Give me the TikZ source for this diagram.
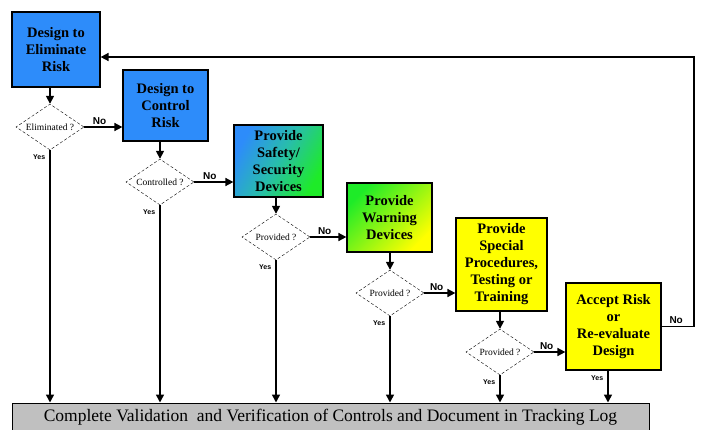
\documentclass[tikz,border=0pt]{standalone}
\usepackage{fontspec}
\setmainfont{Liberation Serif}
\setsansfont{Liberation Sans}
\usetikzlibrary{shapes.geometric,arrows.meta}
\definecolor{riskblue}{RGB}{45,140,250}
\definecolor{riskteal}{RGB}{40,190,170}
\definecolor{riskgreen}{RGB}{30,235,40}
\definecolor{riskyellow}{RGB}{255,255,0}
\definecolor{loggray}{RGB}{192,192,192}

\begin{document}
\begin{tikzpicture}[x=1pt,y=-1pt,>={Triangle[length=8pt,width=8pt]},
    stepbox/.style={draw,line width=1.2pt,align=center,inner sep=2pt,font=\rmfamily\bfseries\fontsize{14.5}{17}\selectfont},
    query/.style={diamond,draw,densely dashed,thin,aspect=1.5,inner sep=0pt,minimum width=68pt,minimum height=46pt,font=\rmfamily\fontsize{9.5}{10}\selectfont},
    flow/.style={->,line width=1.6pt},
    nolabel/.style={above,inner sep=2pt,font=\sffamily\bfseries\fontsize{10}{10}\selectfont},
    yeslabel/.style={below left,inner sep=4pt,font=\sffamily\bfseries\fontsize{7}{7}\selectfont}]

    \useasboundingbox (0,0) rectangle (702,429);

    \node[stepbox,fill=riskblue,minimum width=88pt,minimum height=75pt] (elim) at (56,49.5) {Design to\\Eliminate\\Risk};
    \node[stepbox,fill=riskblue,minimum width=85pt,minimum height=71pt] (control) at (165.5,105.5) {Design to\\Control\\Risk};
    \node[stepbox,left color=riskblue,right color=riskgreen,middle color=riskteal,shading angle=60,minimum width=89pt,minimum height=72pt] (safety) at (278.5,161) {Provide\\Safety/\\Security\\Devices};
    \node[stepbox,top color=riskgreen,bottom color=riskyellow,shading angle=45,minimum width=85pt,minimum height=69pt] (warning) at (389.5,217.5) {Provide\\Warning\\Devices};
    \node[stepbox,fill=riskyellow,minimum width=91pt,minimum height=93pt] (special) at (501.5,264.5) {Provide\\Special\\Procedures,\\Testing or\\Training};
    \node[stepbox,fill=riskyellow,minimum width=95pt,minimum height=87pt] (accept) at (613.5,326.5) {Accept Risk\\or\\Re-evaluate\\Design};

    \node[query] (elimq) at (50,127) {Eliminated ?};
    \node[query] (controlq) at (160,182) {Controlled ?};
    \node[query] (safetyq) at (276,237) {Provided ?};
    \node[query] (warningq) at (390,293) {Provided ?};
    \node[query] (specialq) at (500,352) {Provided ?};

    \node[draw,line width=1pt,fill=loggray,minimum width=637pt,minimum height=29pt,inner sep=0pt,font=\rmfamily\fontsize{17.5}{18}\selectfont] (log) at (330.5,417.5) {Complete Validation~~and Verification of Controls and Document in Tracking Log};

    \draw[flow] (elimq |- elim.south) -- (elimq.north);
    \draw[flow] (controlq |- control.south) -- (controlq.north);
    \draw[flow] (safetyq |- safety.south) -- (safetyq.north);
    \draw[flow] (warningq |- warning.south) -- (warningq.north);
    \draw[flow] (specialq |- special.south) -- (specialq.north);

    \draw[flow] (elimq.east) -- node[nolabel,pos=0.4]{No} (elimq.east -| control.west);
    \draw[flow] (controlq.east) -- node[nolabel,pos=0.4]{No} (controlq.east -| safety.west);
    \draw[flow] (safetyq.east) -- node[nolabel,pos=0.4]{No} (safetyq.east -| warning.west);
    \draw[flow] (warningq.east) -- node[nolabel,pos=0.4]{No} (warningq.east -| special.west);
    \draw[flow] (specialq.east) -- node[nolabel,pos=0.4]{No} (specialq.east -| accept.west);

    \draw[flow] (elimq.south) -- node[yeslabel,pos=0]{Yes} (elimq |- log.north);
    \draw[flow] (controlq.south) -- node[yeslabel,pos=0]{Yes} (controlq |- log.north);
    \draw[flow] (safetyq.south) -- node[yeslabel,pos=0]{Yes} (safetyq |- log.north);
    \draw[flow] (warningq.south) -- node[yeslabel,pos=0]{Yes} (warningq |- log.north);
    \draw[flow] (specialq.south) -- node[yeslabel,pos=0]{Yes} (specialq |- log.north);
    \draw[flow] ([xshift=-5.5pt]accept.south) -- node[yeslabel,pos=0]{Yes} ([xshift=-5.5pt]accept.south |- log.north);

    \coordinate (corner) at (694,57);
    \draw[flow] (accept.east) -- node[nolabel,pos=0.45]{No} (accept.east -| corner) -- (corner) -- (corner -| elim.east);
\end{tikzpicture}
\end{document}
